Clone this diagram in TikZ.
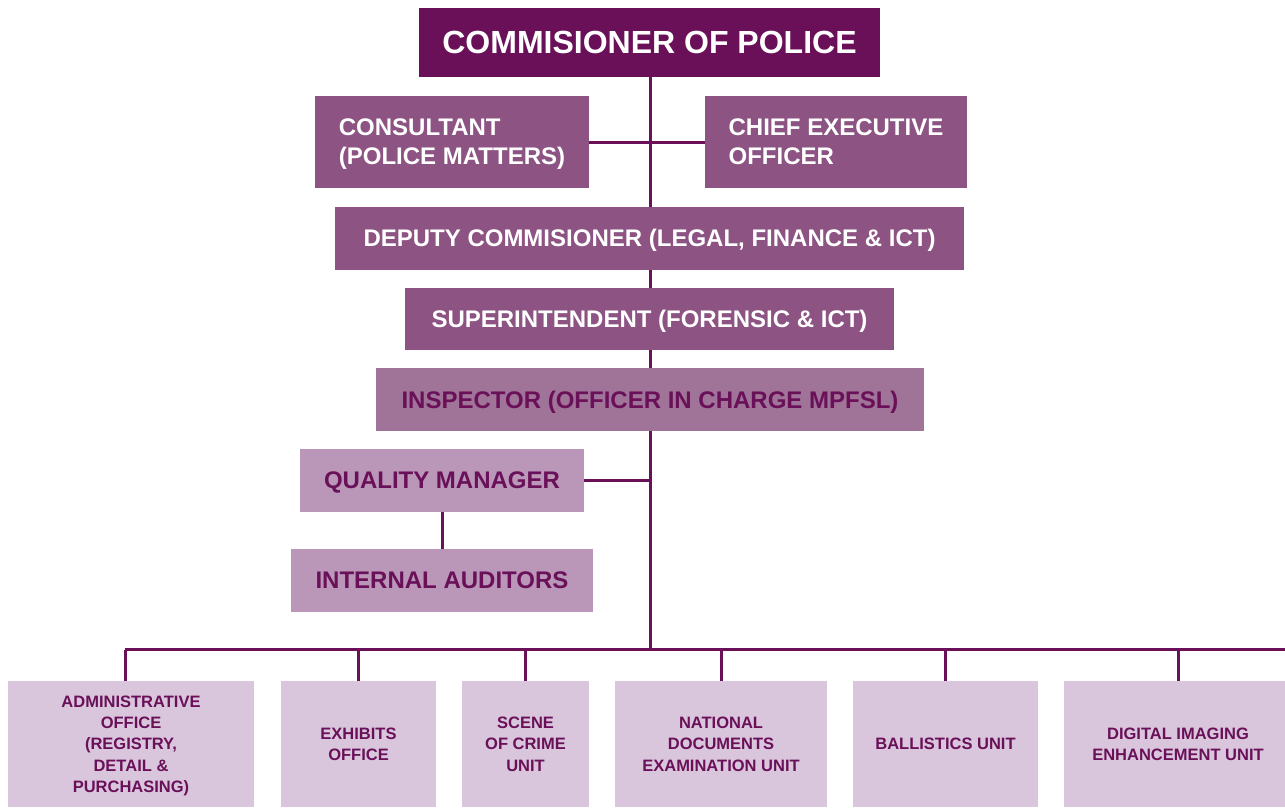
\documentclass[tikz,border=0pt]{standalone}
\usepackage{fontspec}
\setmainfont{Liberation Sans}
\usetikzlibrary{backgrounds}
\definecolor{cdark}{HTML}{6A1059}
\definecolor{cmid}{HTML}{8C5383}
\definecolor{cinsp}{HTML}{A07399}
\definecolor{clight}{HTML}{BA96B9}
\definecolor{cpale}{HTML}{D9C6DC}
\tikzset{
  boxbase/.style={rectangle, inner sep=0pt, anchor=center, text depth=0pt},
  topbox/.style={boxbase, fill=cdark, text=white, font=\bfseries\fontsize{32}{38}\selectfont},
  midbox/.style={boxbase, fill=cmid, text=white, font=\bfseries\fontsize{24}{29}\selectfont},
  inspbox/.style={boxbase, fill=cinsp, text=cdark, font=\bfseries\fontsize{24}{29}\selectfont},
  lightbox/.style={boxbase, fill=clight, text=cdark, font=\bfseries\fontsize{24}{29}\selectfont},
  unitbox/.style={boxbase, fill=cpale, minimum height=126pt, align=center, text=cdark, font=\bfseries\fontsize{16.5}{21.3}\selectfont},
  link/.style={draw=cdark, line width=3pt}
}
\begin{document}
\begin{tikzpicture}[x=1pt,y=-1pt]
\useasboundingbox (0,0) rectangle (1285,807);
\clip (0,0) rectangle (1285,807);
% top levels
\node[topbox, minimum width=461pt, minimum height=69pt] (cop) at (649.5,42.5) {COMMISIONER OF POLICE};
\node[midbox, align=left, minimum width=274pt, minimum height=92pt] (cons) at (452,142) {CONSULTANT\\(POLICE MATTERS)};
\node[midbox, align=left, minimum width=262pt, minimum height=92pt] (ceo) at (836,142) {CHIEF EXECUTIVE\\OFFICER};
\node[midbox, minimum width=629pt, minimum height=63pt] (dep) at (649.5,238) {DEPUTY COMMISIONER (LEGAL, FINANCE \& ICT)};
\node[midbox, minimum width=489pt, minimum height=62pt] (sup) at (649.5,319) {SUPERINTENDENT (FORENSIC \& ICT)};
\node[inspbox, minimum width=548pt, minimum height=63pt] (insp) at (650,399.5) {INSPECTOR (OFFICER IN CHARGE MPFSL)};
\node[lightbox, minimum width=284pt, minimum height=63pt] (qm) at (442,480.5) {QUALITY MANAGER};
\node[lightbox, minimum width=302pt, minimum height=63pt] (ia) at (442,580.5) {INTERNAL AUDITORS};
% bottom units
\node[unitbox, minimum width=246pt] (b1) at (131,744) {ADMINISTRATIVE\\OFFICE\\(REGISTRY,\\DETAIL \&\\PURCHASING)};
\node[unitbox, minimum width=155pt] (b2) at (358.5,744) {EXHIBITS\\OFFICE};
\node[unitbox, minimum width=127pt] (b3) at (525.5,744) {SCENE\\OF CRIME\\UNIT};
\node[unitbox, minimum width=212pt] (b4) at (721,744) {NATIONAL\\DOCUMENTS\\EXAMINATION UNIT};
\node[unitbox, minimum width=185pt] (b5) at (945.5,744) {BALLISTICS UNIT};
\node[unitbox, minimum width=228pt] (b6) at (1178,744) {DIGITAL IMAGING\\ENHANCEMENT UNIT};
% connectors
\coordinate (bus) at (650,649.5);
\coordinate (busR) at (1290,649.5);
\coordinate (busL) at (125,649.5);
\begin{pgfonlayer}{background}
\draw[link] (cop.south -| bus) -- (bus);
\draw[link] (cons.east) -- (ceo.west);
\draw[link] (qm.east) -- (qm.east -| bus);
\draw[link] (qm.south) -- (ia.north);
\draw[link] (busL) -- (busR);
\draw[link] (b1.north -| busL) -- (busL);
\draw[link] (b2.north) -- (b2.north |- bus);
\draw[link] (b3.north) -- (b3.north |- bus);
\draw[link] (b4.north) -- (b4.north |- bus);
\draw[link] (b5.north) -- (b5.north |- bus);
\draw[link] (b6.north) -- (b6.north |- bus);
\end{pgfonlayer}
\end{tikzpicture}
\end{document}
